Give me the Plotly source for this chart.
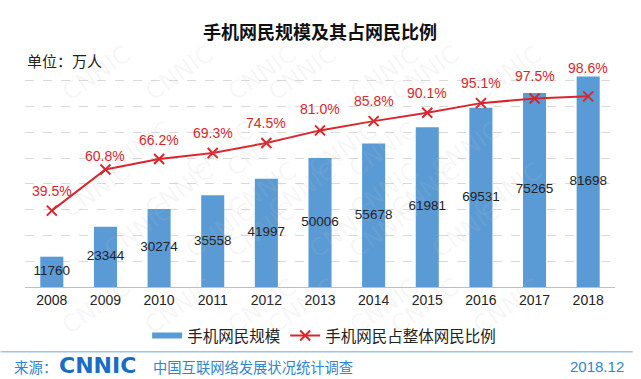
import plotly.graph_objects as go

years = ["2008", "2009", "2010", "2011", "2012", "2013", "2014", "2015", "2016", "2017", "2018"]
users = [11760, 23344, 30274, 35558, 41997, 50006, 55678, 61981, 69531, 75265, 81698]
share = [39.5, 60.8, 66.2, 69.3, 74.5, 81.0, 85.8, 90.1, 95.1, 97.5, 98.6]
share_labels = ["39.5%", "60.8%", "66.2%", "69.3%", "74.5%", "81.0%", "85.8%", "90.1%", "95.1%", "97.5%", "98.6%"]
# vertical offsets (px) of the percentage labels above their markers
label_shift = [20, 13, 19, 20, 20, 21, 20, 20, 20, 23, 28]

BLUE = "#5B9BD5"
RED = "#D9262C"
FOOT = "#2F85D0"
CJK = "Noto Sans CJK SC"
NUM = "Liberation Sans, Arial"

fig = go.Figure()

fig.add_trace(go.Bar(
    x=years, y=users, name="手机网民规模",
    marker=dict(color=BLUE, line=dict(width=0)),
    width=0.43, hoverinfo="skip", showlegend=False,
))
# legend stand-in for the bar series (wide flat swatch)
fig.add_trace(go.Scatter(
    x=[None], y=[None], name="手机网民规模", mode="lines",
    line=dict(color=BLUE, width=6), hoverinfo="skip",
))
# bar value labels at bar middle
fig.add_trace(go.Scatter(
    x=years, y=[v / 2 for v in users], mode="text",
    text=[str(v) for v in users],
    textfont=dict(family=NUM, size=13.5, color="#222222"),
    showlegend=False, hoverinfo="skip",
))
fig.add_trace(go.Scatter(
    x=years, y=share, name="手机网民占整体网民比例", yaxis="y2",
    mode="lines+markers",
    line=dict(color=RED, width=2),
    marker=dict(symbol="x-thin", size=10, line=dict(color=RED, width=2), color=RED),
    hoverinfo="skip",
))

for i, (s, lab, dy) in enumerate(zip(share, share_labels, label_shift)):
    fig.add_annotation(
        x=i, y=s, xref="x", yref="y2", text=lab, showarrow=False,
        yshift=dy, font=dict(family=NUM, size=14, color=RED),
    )

# faint background watermark
for j in range(5):
    for k in range(7):
        wx = 0.05 + k * 0.14 + (j % 2) * 0.07
        if wx > 0.93:
            continue
        fig.add_annotation(
            x=wx, y=1.08 - j * 0.33, xref="paper", yref="paper",
            text="CNNIC", showarrow=False, textangle=-35,
            font=dict(family="DejaVu Sans", size=24, color="rgba(190,190,190,0.12)"),
        )

fig.update_layout(
    width=641, height=379,
    margin=dict(l=24.5, r=26, t=55, b=92, autoexpand=False),
    paper_bgcolor="white", plot_bgcolor="white",
    showlegend=True,
    legend=dict(orientation="h", x=0.207, xanchor="left", y=-0.211, yanchor="middle",
                font=dict(family=CJK, size=15.5, color="#222222"), itemwidth=30,
                bgcolor="rgba(0,0,0,0)", traceorder="normal"),
    xaxis=dict(type="category", range=[-0.5, 10.5], showline=True, linecolor="#BFBFBF", linewidth=1,
               ticks="", tickfont=dict(family=NUM, size=14, color="#222222"),
               showgrid=False),
    yaxis=dict(range=[0, 90000], dtick=10000, showticklabels=False, showgrid=True,
               gridcolor="#D9D9D9", griddash="dash", gridwidth=1, zeroline=False, showline=False),
    yaxis2=dict(range=[0, 120], overlaying="y", side="right", showticklabels=False,
                showgrid=False, zeroline=False, showline=False),
)

# title & unit
fig.add_annotation(x=0.5, y=1, xref="paper", yref="paper", yanchor="middle", yshift=24.5,
                   text="<b>手机网民规模及其占网民比例</b>", showarrow=False,
                   font=dict(family=CJK, size=18, color="#111111"))
fig.add_annotation(x=0, y=1, xref="paper", yref="paper", xanchor="left", yanchor="middle",
                   xshift=0, yshift=-5, text="单位：万人", showarrow=False,
                   font=dict(family=CJK, size=15, color="#222222"))

# footer separator
SEP = -0.2789
fig.add_shape(type="line", xref="paper", yref="paper", x0=-0.0415, x1=1.03, y0=SEP, y1=SEP,
              line=dict(color="#9DC3E6", width=1.5))
fig.add_annotation(x=0, y=SEP, xref="paper", yref="paper", xanchor="left", yanchor="middle",
                   xshift=-13, yshift=-15, text="来源：", showarrow=False,
                   font=dict(family=CJK, size=14.5, color=FOOT))
fig.add_annotation(x=0, y=SEP, xref="paper", yref="paper", xanchor="left", yanchor="middle",
                   xshift=32, yshift=-14, text="<b>CNNIC</b>", showarrow=False,
                   font=dict(family="DejaVu Sans", size=22, color="#1A6DC4"))
fig.add_annotation(x=0, y=SEP, xref="paper", yref="paper", xanchor="left", yanchor="middle",
                   xshift=126, yshift=-15, text="中国互联网络发展状况统计调查", showarrow=False,
                   font=dict(family=CJK, size=14.3, color=FOOT))
fig.add_annotation(x=1, y=SEP, xref="paper", yref="paper", xanchor="right", yanchor="middle",
                   xshift=11, yshift=-15, text="2018.12", showarrow=False,
                   font=dict(family=NUM, size=15, color=FOOT))

fig.write_html("out.html", config={"displayModeBar": False},
               post_script="document.body.style.margin='0';")
